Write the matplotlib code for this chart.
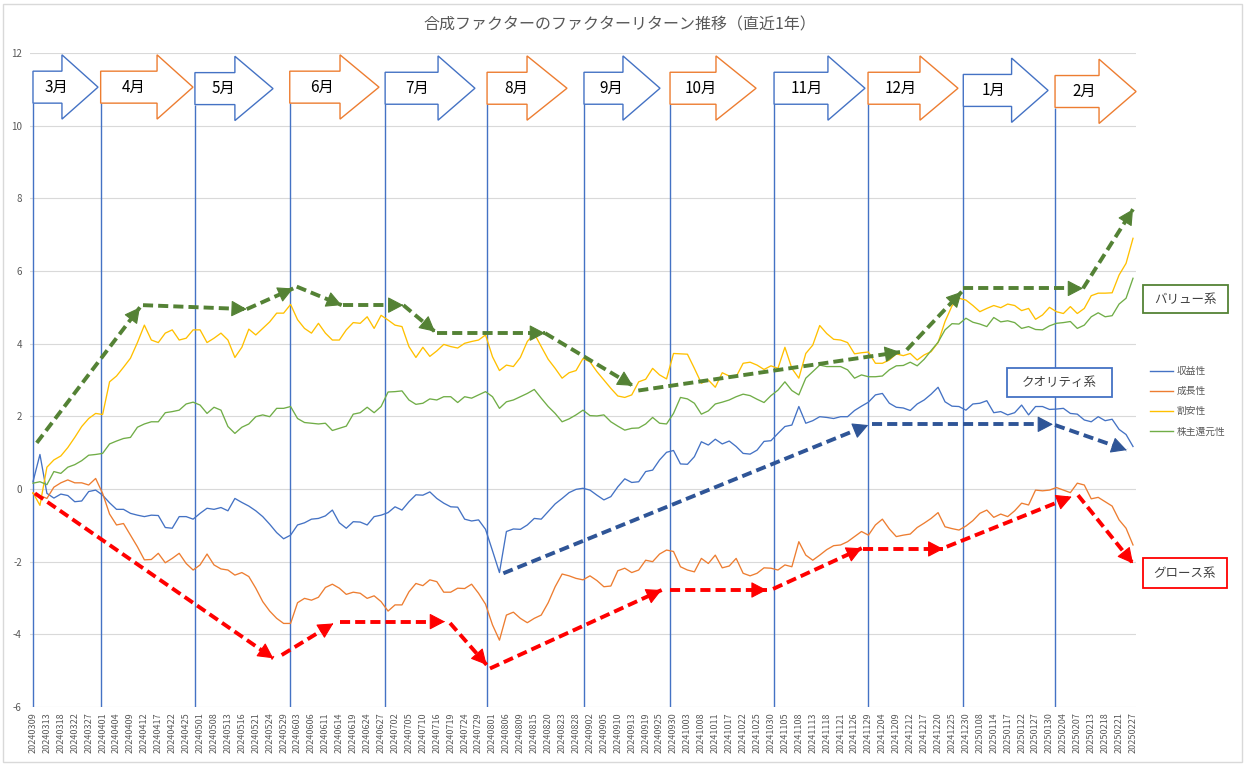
import numpy as np
import matplotlib
matplotlib.use('Agg')
import matplotlib.pyplot as plt
from matplotlib.patches import Polygon, Rectangle
from matplotlib.lines import Line2D

plt.rcParams['font.family'] = ['Noto Sans CJK JP', 'DejaVu Sans']
plt.rcParams['axes.unicode_minus'] = False

# ------------------------------------------------------------------
# データ（目盛ラベル3営業日ごと、系列は目盛の半分刻みで読み取り）
# ------------------------------------------------------------------
dates = [
    '20240309', '20240313', '20240318', '20240322', '20240327', '20240401',
    '20240404', '20240409', '20240412', '20240417', '20240422', '20240425',
    '20240501', '20240508', '20240513', '20240516', '20240521', '20240524',
    '20240529', '20240603', '20240606', '20240611', '20240614', '20240619',
    '20240624', '20240627', '20240702', '20240705', '20240710', '20240716',
    '20240719', '20240724', '20240729', '20240801', '20240806', '20240809',
    '20240815', '20240820', '20240823', '20240828', '20240902', '20240905',
    '20240910', '20240913', '20240919', '20240925', '20240930', '20241003',
    '20241008', '20241011', '20241017', '20241022', '20241025', '20241030',
    '20241105', '20241108', '20241113', '20241118', '20241121', '20241126',
    '20241129', '20241204', '20241209', '20241212', '20241217', '20241220',
    '20241225', '20241230', '20250108', '20250114', '20250117', '20250122',
    '20250127', '20250130', '20250204', '20250207', '20250213', '20250218',
    '20250221', '20250227',
]

shueki = [
    0.20, 0.95, -0.12, -0.25, -0.14, -0.18, -0.35, -0.33, -0.07, -0.03,
    -0.17, -0.38, -0.56, -0.56, -0.67, -0.72, -0.76, -0.72, -0.73, -1.06,
    -1.08, -0.76, -0.76, -0.83, -0.67, -0.53, -0.56, -0.51, -0.60, -0.26,
    -0.37, -0.47, -0.60, -0.76, -0.97, -1.20, -1.37, -1.27, -0.99, -0.93,
    -0.83, -0.81, -0.74, -0.58, -0.93, -1.08, -0.90, -0.91, -0.99, -0.76,
    -0.72, -0.65, -0.49, -0.58, -0.35, -0.16, -0.17, -0.08, -0.26, -0.39,
    -0.49, -0.50, -0.83, -0.88, -0.85, -1.11, -1.70, -2.30, -1.17, -1.10,
    -1.11, -0.99, -0.81, -0.83, -0.62, -0.41, -0.26, -0.10, -0.01, 0.02,
    -0.03, -0.17, -0.30, -0.21, 0.06, 0.28, 0.18, 0.20, 0.48, 0.52,
    0.80, 1.01, 1.06, 0.69, 0.68, 0.89, 1.30, 1.21, 1.37, 1.24,
    1.32, 1.17, 0.98, 0.96, 1.07, 1.31, 1.33, 1.53, 1.72, 1.76,
    2.27, 1.81, 1.88, 1.99, 1.97, 1.94, 1.99, 1.99, 2.16, 2.28,
    2.39, 2.59, 2.63, 2.36, 2.25, 2.23, 2.16, 2.34, 2.45, 2.61,
    2.80, 2.40, 2.28, 2.27, 2.17, 2.34, 2.36, 2.43, 2.10, 2.13,
    2.04, 2.10, 2.31, 2.04, 2.27, 2.27, 2.19, 2.20, 2.22, 2.08,
    2.06, 1.90, 1.85, 1.99, 1.88, 1.92, 1.64, 1.50, 1.17,
]

seicho = [
    -0.12, -0.18, -0.26, 0.05, 0.17, 0.25, 0.17, 0.17, 0.11, 0.29,
    -0.12, -0.69, -0.99, -0.95, -1.27, -1.59, -1.95, -1.94, -1.77, -2.03,
    -1.91, -1.77, -2.05, -2.23, -2.09, -1.79, -2.09, -2.20, -2.23, -2.37,
    -2.30, -2.41, -2.73, -3.10, -3.36, -3.56, -3.70, -3.70, -3.13, -3.01,
    -3.06, -2.98, -2.71, -2.62, -2.73, -2.90, -2.84, -2.87, -3.01, -2.94,
    -3.10, -3.36, -3.19, -3.19, -2.83, -2.60, -2.66, -2.50, -2.55, -2.84,
    -2.84, -2.73, -2.74, -2.62, -2.87, -3.17, -3.74, -4.16, -3.47, -3.39,
    -3.56, -3.68, -3.56, -3.47, -3.13, -2.69, -2.34, -2.39, -2.46, -2.50,
    -2.39, -2.52, -2.69, -2.67, -2.25, -2.18, -2.30, -2.23, -1.96, -2.00,
    -1.79, -1.68, -1.72, -2.14, -2.23, -2.28, -1.91, -2.05, -1.82, -2.17,
    -2.12, -1.91, -2.32, -2.39, -2.32, -2.17, -2.18, -2.23, -2.09, -2.14,
    -1.45, -1.82, -1.96, -1.82, -1.67, -1.56, -1.54, -1.45, -1.31, -1.17,
    -1.27, -0.99, -0.83, -1.10, -1.31, -1.27, -1.24, -1.06, -0.94, -0.81,
    -0.65, -1.04, -1.09, -1.13, -1.02, -0.87, -0.67, -0.58, -0.78, -0.69,
    -0.76, -0.60, -0.39, -0.44, -0.03, -0.05, -0.03, 0.04, -0.03, -0.10,
    0.16, 0.11, -0.27, -0.23, -0.35, -0.47, -0.85, -1.08, -1.54,
]

wariyasu = [
    -0.10, -0.45, 0.60, 0.80, 0.91, 1.14, 1.42, 1.72, 1.94, 2.08,
    2.05, 2.95, 3.11, 3.35, 3.60, 4.03, 4.51, 4.10, 4.03, 4.29,
    4.38, 4.10, 4.15, 4.38, 4.38, 4.03, 4.15, 4.29, 4.10, 3.62,
    3.90, 4.40, 4.24, 4.42, 4.60, 4.84, 4.84, 5.08, 4.66, 4.42,
    4.29, 4.56, 4.29, 4.10, 4.10, 4.38, 4.58, 4.56, 4.74, 4.42,
    4.78, 4.65, 4.51, 4.47, 3.92, 3.62, 3.90, 3.65, 3.80, 3.98,
    3.92, 3.88, 4.01, 4.06, 4.10, 4.24, 3.64, 3.26, 3.41, 3.37,
    3.62, 4.06, 4.28, 3.92, 3.57, 3.32, 3.05, 3.20, 3.26, 3.59,
    3.50, 3.23, 3.00, 2.77, 2.56, 2.52, 2.59, 2.95, 3.02, 3.32,
    3.14, 3.03, 3.73, 3.72, 3.71, 3.32, 2.91, 3.00, 2.80, 3.20,
    3.11, 3.09, 3.46, 3.49, 3.41, 3.29, 3.39, 3.32, 3.90, 3.32,
    3.05, 3.73, 3.96, 4.50, 4.28, 4.12, 4.10, 4.03, 3.72, 3.75,
    3.77, 3.46, 3.46, 3.55, 3.72, 3.67, 3.73, 3.55, 3.69, 3.78,
    4.03, 4.61, 5.04, 5.25, 5.20, 5.05, 4.88, 4.97, 5.05, 4.99,
    5.09, 5.05, 4.91, 4.97, 4.67, 4.79, 5.00, 4.88, 4.83, 5.02,
    4.83, 4.97, 5.32, 5.39, 5.39, 5.40, 5.89, 6.21, 6.90,
]

kabunushi = [
    0.16, 0.20, 0.12, 0.48, 0.43, 0.60, 0.67, 0.78, 0.93, 0.95,
    0.98, 1.24, 1.32, 1.39, 1.42, 1.70, 1.79, 1.85, 1.85, 2.10,
    2.13, 2.17, 2.34, 2.39, 2.31, 2.08, 2.25, 2.17, 1.72, 1.53,
    1.70, 1.79, 1.99, 2.04, 1.99, 2.22, 2.22, 2.27, 1.94, 1.83,
    1.81, 1.79, 1.81, 1.61, 1.67, 1.73, 2.06, 2.10, 2.25, 2.10,
    2.27, 2.67, 2.68, 2.70, 2.45, 2.33, 2.36, 2.48, 2.45, 2.54,
    2.54, 2.38, 2.54, 2.50, 2.59, 2.68, 2.54, 2.22, 2.40, 2.45,
    2.54, 2.63, 2.74, 2.50, 2.27, 2.08, 1.85, 1.93, 2.04, 2.17,
    2.02, 2.01, 2.04, 1.85, 1.73, 1.62, 1.67, 1.68, 1.79, 1.97,
    1.81, 1.79, 2.08, 2.52, 2.48, 2.36, 2.06, 2.15, 2.34, 2.39,
    2.45, 2.54, 2.61, 2.57, 2.47, 2.38, 2.57, 2.72, 2.95, 2.71,
    2.59, 3.05, 3.23, 3.41, 3.37, 3.37, 3.37, 3.28, 3.05, 3.14,
    3.09, 3.09, 3.11, 3.28, 3.39, 3.40, 3.49, 3.39, 3.57, 3.81,
    4.04, 4.38, 4.55, 4.54, 4.70, 4.59, 4.54, 4.47, 4.72, 4.60,
    4.63, 4.58, 4.42, 4.47, 4.39, 4.38, 4.49, 4.56, 4.58, 4.61,
    4.42, 4.51, 4.74, 4.85, 4.74, 4.77, 5.09, 5.25, 5.80,
]

labels = ['収益性', '成長性', '割安性', '株主還元性']

BLUE = '#4472C4'
ORANGE = '#ED7D31'
YELLOW = '#FFC000'
GREEN = '#70AD47'
GRAY = '#595959'
colors = [BLUE, ORANGE, YELLOW, GREEN]

# 月の区切り（目盛位置）と矢印の形
month_lines = [0.0, 4.86, 11.63, 18.44, 25.29, 32.61, 39.57, 45.75,
               53.22, 59.97, 66.81, 73.40]
month_names = ['3月', '4月', '5月', '6月', '7月', '8月', '9月', '10月',
               '11月', '12月', '1月', '2月']
head_start = [2.08, 8.91, 14.50, 22.05, 29.09, 35.48, 42.37, 49.05,
              57.09, 63.70, 70.28, 76.56]
head_tip = [4.67, 11.49, 17.24, 24.85, 31.74, 38.35, 45.03, 51.93,
            59.75, 66.43, 72.90, 79.22]
month_dy = [0, 0, -0.04, 0, -0.03, -0.03, -0.03, -0.03, -0.03, -0.03, -0.09, -0.12]

# 傾向矢印 (始点, 終点)
value_trend = [((0.27, 1.27), (7.68, 5.00)), ((7.9, 5.06), (15.35, 4.95)),
               ((15.35, 4.95), (18.69, 5.52)), ((18.94, 5.57), (22.17, 5.06)),
               ((22.26, 5.06), (26.6, 5.06)), ((26.6, 5.06), (28.87, 4.33)),
               ((29.0, 4.29), (36.77, 4.29)), ((36.77, 4.29), (43.09, 2.84)),
               ((43.47, 2.71), (62.27, 3.77)), ((62.75, 3.83), (66.7, 5.43)),
               ((66.79, 5.52), (75.41, 5.52)), ((75.41, 5.52), (79.0, 7.70))]
growth_trend = [((0.14, -0.12), (17.26, -4.66)), ((17.86, -4.57), (21.57, -3.70)),
                ((22.05, -3.65), (29.59, -3.65)), ((29.95, -3.69), (32.58, -4.84)),
                ((32.82, -4.94), (45.15, -2.78)), ((45.75, -2.78), (52.69, -2.78)),
                ((53.15, -2.75), (59.52, -1.63)), ((59.62, -1.65), (65.38, -1.65)),
                ((65.62, -1.59), (74.6, -0.21)), ((75.05, -0.17), (79.0, -2.05))]
quality_trend = [((33.78, -2.32), (59.99, 1.76)), ((60.25, 1.78), (73.25, 1.78)),
                 ((73.4, 1.76), (78.55, 1.07))]

# ------------------------------------------------------------------
W, H = 1248, 767
fig = plt.figure(figsize=(W / 100, H / 100), dpi=100)


def fx(px):
    return px / W


def fy(py):
    return 1 - py / H


ax = fig.add_axes([fx(30.2), fy(707), (1135.8 - 30.2) / W, (707 - 53) / H])
ax.set_xlim(-0.2, 79.2)
ax.set_ylim(-6, 12)

x = np.arange(len(shueki)) / 2
for name, vals, c in zip(labels, [shueki, seicho, wariyasu, kabunushi], colors):
    ax.plot(x, vals, color=c, lw=0.95, label=name, zorder=3)

ax.set_yticks(range(-6, 13, 2))
ax.set_xticks(range(len(dates)))
ax.set_xticklabels(dates, rotation=90, fontsize=6.5, color=GRAY)
ax.tick_params(axis='x', length=0, pad=4)
ax.tick_params(axis='y', length=0, pad=6, labelsize=7, labelcolor=GRAY)
ax.grid(axis='y', color='#d9d9d9', lw=0.8)
ax.set_axisbelow(True)
for s in ax.spines.values():
    s.set_visible(False)

# 月の縦線と矢印
body_top, body_bot = 11.5, 10.62
hd_top, hd_bot = 11.95, 10.18
for i, (xl, xh, xt, dy, name) in enumerate(zip(month_lines, head_start, head_tip,
                                               month_dy, month_names)):
    c = BLUE if i % 2 == 0 else ORANGE
    ax.vlines(xl, -6, body_bot + dy, color=BLUE, lw=1.0, zorder=2)
    pts = [(xl, body_top + dy), (xh, body_top + dy), (xh, hd_top + dy),
           (xt, (body_top + body_bot) / 2 + dy), (xh, hd_bot + dy),
           (xh, body_bot + dy), (xl, body_bot + dy)]
    ax.add_patch(Polygon(pts, closed=True, facecolor='white', edgecolor=c,
                         lw=1.0, zorder=5, clip_on=False))
    ax.text(xl + 0.36 * (xt - xl), (body_top + body_bot) / 2 + dy, name,
            ha='center', va='center', fontsize=11, color='black', zorder=6)


def trend(segs, color):
    # 破線の軸と塗りつぶしの矢じりを分けて描く
    for p0, p1 in segs:
        ax.plot([p0[0], p1[0]], [p0[1], p1[1]], color=color, lw=2.8,
                ls=(0, (2.6, 1.3)), solid_capstyle='butt', zorder=7)
        near = (p1[0] - 0.02 * (p1[0] - p0[0]), p1[1] - 0.02 * (p1[1] - p0[1]))
        ax.annotate('', xy=p1, xytext=near, zorder=8,
                    arrowprops=dict(arrowstyle='-|>,head_length=0.65,head_width=0.34',
                                    color=color, lw=0.8, shrinkA=0, shrinkB=0,
                                    mutation_scale=15))


trend(value_trend, '#548235')
trend(growth_trend, '#FF0000')
trend(quality_trend, '#2F5597')

# 凡例
handles = [Line2D([], [], color=c, lw=1.0) for c in colors]
fig.legend(handles, labels, loc='upper left', bbox_to_anchor=(fx(1150), fy(366)),
           frameon=False, fontsize=7, labelcolor=GRAY, handlelength=2.4,
           handletextpad=0.3, labelspacing=1.05, borderpad=0, borderaxespad=0)

# ラベル枠


def label_box(x0, y0, x1, y1, text, ec):
    fig.add_artist(Rectangle((fx(x0), fy(y1)), (x1 - x0) / W, (y1 - y0) / H,
                             transform=fig.transFigure, facecolor='white',
                             edgecolor=ec, lw=1.3, zorder=8))
    fig.text(fx((x0 + x1) / 2), fy((y0 + y1) / 2), text, ha='center', va='center',
             fontsize=9, color='#404040', zorder=9)


label_box(1143.3, 285, 1227.7, 313.3, 'バリュー系', '#548235')
label_box(1006.7, 368.3, 1112.3, 397.3, 'クオリティ系', BLUE)
label_box(1143.3, 558.3, 1226.7, 588.3, 'グロース系', '#FF0000')

# タイトルと外枠
fig.text(fx(620), fy(25), '合成ファクターのファクターリターン推移（直近1年）',
         ha='center', va='center', fontsize=11.5, color=GRAY)
fig.add_artist(Rectangle((fx(3), fy(762)), (1242 - 3) / W, (762 - 4) / H,
                         transform=fig.transFigure, fill=False,
                         edgecolor='#d9d9d9', lw=1.0))

fig.savefig('out.png', dpi=100)
